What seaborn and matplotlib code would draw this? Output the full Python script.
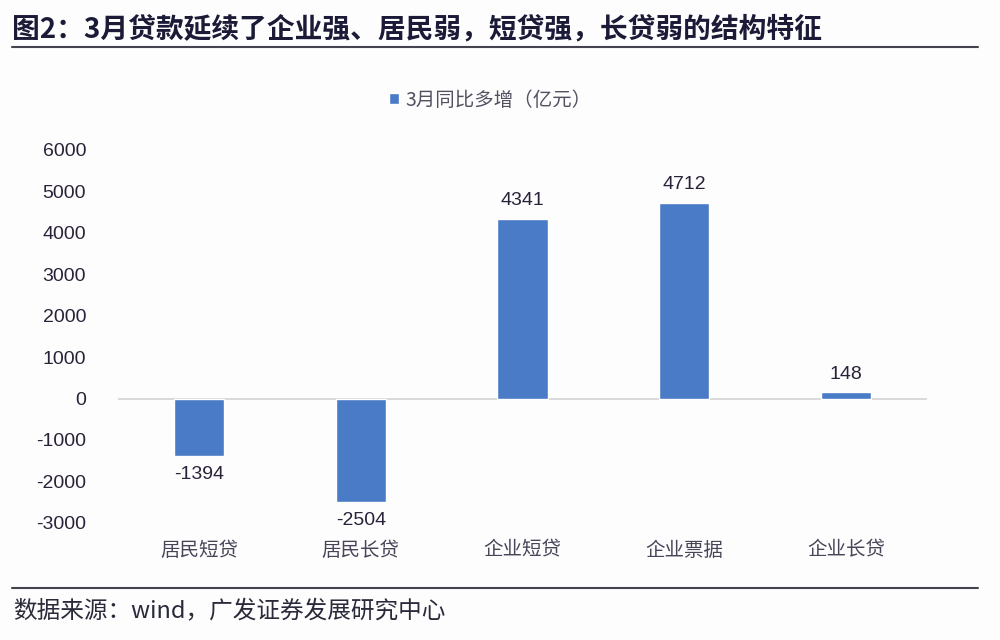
import matplotlib
matplotlib.use("Agg")
import matplotlib.pyplot as plt
import seaborn as sns
import pandas as pd

# 3月新增贷款结构（同比多增，亿元）
categories = ["居民短贷", "居民长贷", "企业短贷", "企业票据", "企业长贷"]
values = [-1394, -2504, 4341, 4712, 148]
series_name = "3月同比多增（亿元）"
y_ticks = [-3000, -2000, -1000, 0, 1000, 2000, 3000, 4000, 5000, 6000]

title = "图2：3月贷款延续了企业强、居民弱，短贷强，长贷弱的结构特征"
source = "数据来源：wind，广发证券发展研究中心"

sns.set_theme(style="white")
plt.rcParams["font.family"] = ["Liberation Sans", "Noto Sans CJK SC", "DejaVu Sans"]

df = pd.DataFrame({"category": categories, "value": values})

fig = plt.figure(figsize=(10, 6.4), dpi=100)
fig.patch.set_facecolor("#fdfdfe")
ax = fig.add_axes([0.118, 0.183, 0.809, 0.583])
ax.set_facecolor("#fdfdfe")

bar_color = "#4a7bc6"
sns.barplot(data=df, x="category", y="value", color=bar_color, width=0.31,
            saturation=1, label=series_name, ax=ax)

ax.axhline(0, color="#d4d4d4", linewidth=1.2, zorder=0)

# value labels
ax.bar_label(ax.containers[0], labels=[str(v) for v in values], padding=7,
             fontsize=14, color="#2a2238")

ax.set_xlim(-0.5, 4.5)
ax.set_ylim(-3000, 6000)
ax.set_yticks(y_ticks)
ax.set_yticklabels([str(t) for t in y_ticks])
ax.set_xlabel("")
ax.set_ylabel("")
for s in ax.spines.values():
    s.set_visible(False)
ax.tick_params(axis="y", labelsize=14, labelcolor="#2a2238", length=0, pad=23)
ax.tick_params(axis="x", labelsize=14, labelcolor="#4a4458", length=0, pad=12)
for lbl in ax.get_xticklabels():
    lbl.set_family(["Noto Sans CJK SC", "DejaVu Sans"])

leg = ax.legend(loc="center", bbox_to_anchor=(0.49, 1 - 100 / 640),
                bbox_transform=fig.transFigure, frameon=False, fontsize=14,
                handlelength=0.55, handleheight=0.55, handletextpad=0.3)
for t in leg.get_texts():
    t.set_color("#555060")
    t.set_family(["Noto Sans CJK SC", "DejaVu Sans"])

# title and rules
fig.text(0.012, 1 - 29 / 640, title, fontsize=20, fontweight="bold",
         color="#1b1b38", va="center", ha="left",
         family=["Noto Sans CJK SC", "DejaVu Sans"])
fig.add_artist(plt.Line2D([0.012, 0.978], [1 - 47 / 640] * 2,
                          color="#444450", linewidth=1.5))
fig.add_artist(plt.Line2D([0.012, 0.978], [1 - 588 / 640] * 2,
                          color="#444450", linewidth=1.5))
fig.text(0.013, 1 - 612 / 640, source, fontsize=17, color="#2a2a3a",
         va="center", ha="left", family=["Noto Sans CJK SC", "DejaVu Sans"])

fig.savefig("out.png", dpi=100, facecolor=fig.get_facecolor())
